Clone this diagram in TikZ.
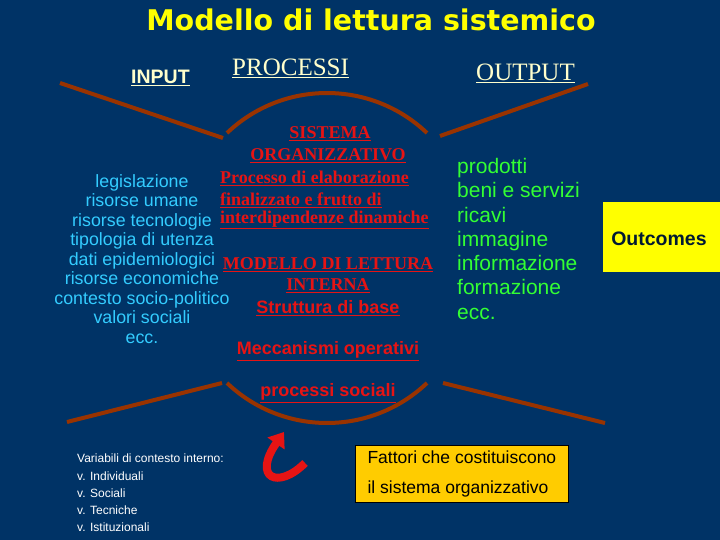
\documentclass[tikz,border=0pt]{standalone}
\usepackage{fontspec}
\setmainfont{Liberation Serif}
\setsansfont{Liberation Sans}
\newfontfamily\titlefont{DejaVu Sans}
\usetikzlibrary{arrows.meta}
\definecolor{bg}{RGB}{0,51,102}
\definecolor{brn}{RGB}{153,51,0}
\definecolor{rd}{RGB}{230,20,20}
\definecolor{cy}{RGB}{51,204,255}
\definecolor{gr}{RGB}{51,255,51}
\definecolor{yl}{RGB}{255,255,0}
\definecolor{lyel}{RGB}{255,255,204}
\definecolor{orng}{RGB}{255,204,0}
\tikzset{
 frame/.style={draw=brn,line width=4pt},
 cyt/.style={text=cy,font=\sffamily\fontsize{17.8}{19.5}\selectfont,align=center,inner sep=0},
 grt/.style={text=gr,font=\sffamily\fontsize{21}{24.3}\selectfont,align=left,anchor=north west,inner sep=0},
 rs/.style={text=rd,font=\bfseries\fontsize{18}{21}\selectfont,inner sep=0},
 rss/.style={text=rd,font=\sffamily\bfseries\fontsize{18}{21}\selectfont,inner sep=0},
 hd/.style={text=lyel,inner sep=0},
}
\begin{document}
\begin{tikzpicture}[x=1pt,y=-1pt]
\fill[bg] (0,0) rectangle (720,540);
\useasboundingbox (0,0) rectangle (720,540);
\node[text=yl,font=\titlefont\bfseries\fontsize{28.5}{30}\selectfont] (title) at (371,20) {Modello di lettura sistemico};
\node[hd,font=\sffamily\bfseries\fontsize{19.5}{20}\selectfont,anchor=west] (in) at (131,78) {\underline{INPUT}};
\node[hd,font=\fontsize{25}{26}\selectfont,anchor=west] (pr) at (232,68) {\underline{PROCESSI}};
\node[hd,font=\fontsize{25}{26}\selectfont,anchor=west] (out) at (476,73) {\underline{OUTPUT}};
% frame
\coordinate (a1) at (60,83); \coordinate (a2) at (223,138);
\coordinate (b1) at (67,422); \coordinate (b2) at (222,383);
\coordinate (c1) at (440,136); \coordinate (c2) at (588,84);
\coordinate (d1) at (443,383); \coordinate (d2) at (605,423);
\draw[frame] (a1) -- (a2);
\draw[frame] (c1) -- (c2);
\draw[frame] (b1) -- (b2);
\draw[frame] (d1) -- (d2);
\draw[frame] (227,133) arc[start angle=226.4,end angle=313.6,radius=145];
\draw[frame] (227,383) arc[start angle=133.6,end angle=46.4,radius=145];
% input list
\node[cyt] (inl) at (142,259) {legislazione\\risorse umane\\risorse tecnologie\\tipologia di utenza\\dati epidemiologici\\risorse economiche\\contesto socio-politico\\valori sociali\\ecc.};
% center
\node[rs] (s1) at (330,134) {\underline{SISTEMA}};
\node[rs] (s2) at (328,156) {\underline{ORGANIZZATIVO}};
\node[rs,anchor=west] (s3) at (220,178) {\underline{Processo di elaborazione}};
\node[rs,anchor=west] (s4) at (220,200) {\underline{finalizzato e frutto di}};
\node[rs,anchor=west] (s5) at (220,220) {\underline{interdipendenze dinamiche}};
\node[rs] (m1) at (328,265) {\underline{MODELLO DI LETTURA}};
\node[rs] (m2) at (328,286) {\underline{INTERNA}};
\node[rss] (m3) at (328,308) {\underline{Struttura di base}};
\node[rss] (m4) at (328,351) {\underline{Meccanismi operativi}};
\node[rss] (m5) at (328,393) {\underline{processi sociali}};
% output
\node[grt] (outl) at (457,158) {prodotti\\beni e servizi\\ricavi\\immagine\\informazione\\formazione\\ecc.};
\node[fill=yl,minimum width=117pt,minimum height=70pt,anchor=north west,inner sep=0] (oc) at (603,202) {};
\node[font=\sffamily\bfseries\fontsize{19.5}{20}\selectfont,text=bg!50!black] (octx) at (659,239) {Outcomes};
% bottom
\node[text=white,font=\sffamily\fontsize{12}{17.2}\selectfont,align=left,anchor=north west,inner sep=0] (var) at (77,454) {Variabili di contesto interno:\\v. Individuali\\v. Sociali\\v. Tecniche\\v. Istituzionali};
\node[fill=orng,draw=black,line width=0.8pt,anchor=north west,minimum width=213pt,minimum height=57pt,align=left,font=\sffamily\fontsize{17.5}{30}\selectfont,text=black,inner xsep=6pt] (fat) at (355,445) {Fattori che costituiscono\\il sistema organizzativo};
\coordinate (ar1) at (305,463);
\coordinate (ar2) at (284,432);
\draw[rd,line width=8pt,-{Triangle[length=14pt,width=20pt]}] (ar1) .. controls (278,490) and (252,478) .. (ar2);
\end{tikzpicture}
\end{document}
